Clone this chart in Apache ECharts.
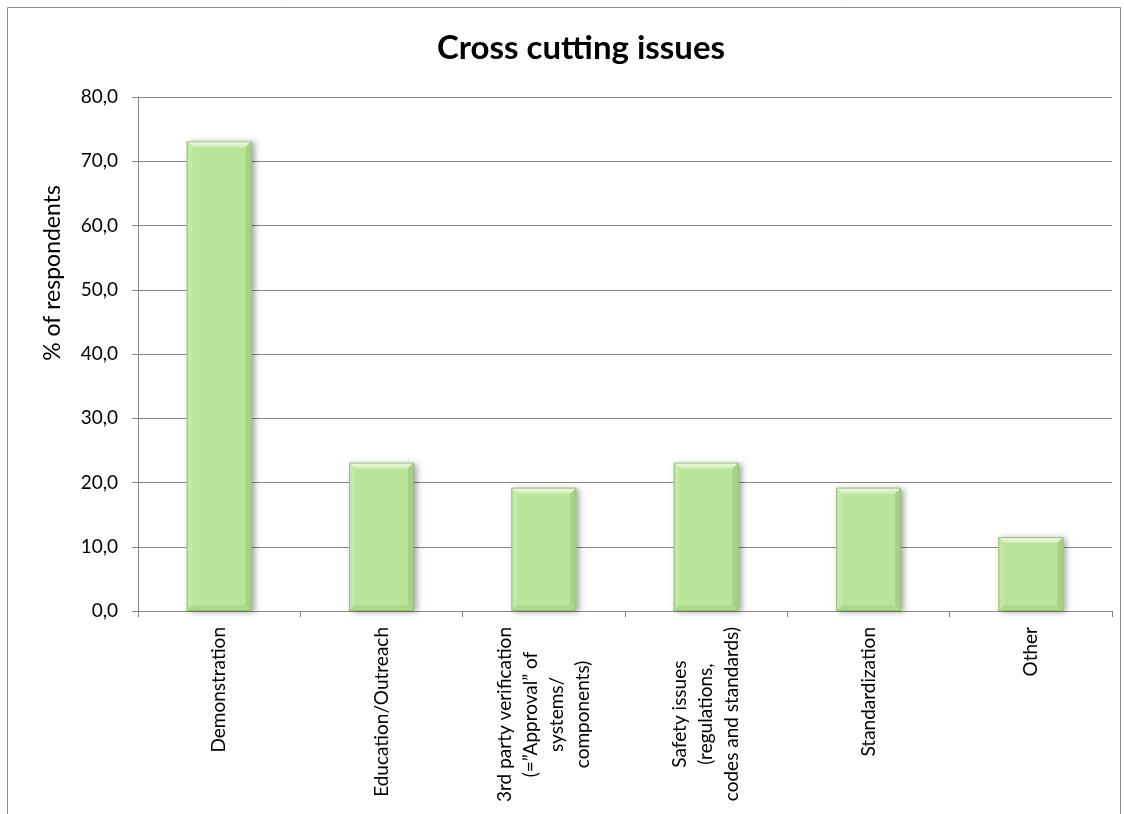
<!DOCTYPE html>
<html>
<head>
<meta charset="utf-8">
<script src="https://cdn.jsdelivr.net/npm/echarts@6/dist/echarts.min.js"></script>
<style>
  html, body { margin: 0; padding: 0; background: #ffffff; }
  #chart { width: 1124px; height: 814px; }
</style>
</head>
<body>
<div id="chart"></div>
<script>
// Survey answers: share of respondents naming each cross cutting issue
const categories = [
  'Demonstration',
  'Education/Outreach',
  '3rd party verification\n(=”Approval” of\nsystems/\ncomponents)',
  'Safety issues\n(regulations,\ncodes and standards)',
  'Standardization',
  'Other'
];
const shares = [73.1, 23.1, 19.2, 23.1, 19.2, 11.5];
const valueTitle = '% of respondents';

const yMin = 0;
const yMax = 80;
const yStep = 10;

const FONT = 'Lato';
const GRID_GREY = '#878787';

// Bevelled bar in the style of an office chart, sized by the axes
function renderBar(params, api) {
  const idx = api.value(0);
  const v = api.value(1);
  const top = api.coord([idx, v]);
  const base = api.coord([idx, yMin]);
  const w = api.size([1, 0])[0] * 0.4;
  const x0 = top[0] - w / 2, x1 = top[0] + w / 2;
  const y0 = top[1], y1 = base[1];
  const b = Math.min(6, (y1 - y0) / 2);
  return {
    type: 'group',
    children: [
      { type: 'rect', shape: { x: x0, y: y0, width: w, height: y1 - y0 },
        style: { fill: '#b9e49a', shadowBlur: 6, shadowColor: 'rgba(0,0,0,0.35)', shadowOffsetX: 3, shadowOffsetY: 1 } },
      { type: 'polygon', shape: { points: [[x0, y0], [x1, y0], [x1 - b, y0 + b], [x0 + b, y0 + b]] },
        style: { fill: new echarts.graphic.LinearGradient(0, 0, 0, 1, [
          { offset: 0, color: '#f1fbe8' }, { offset: 1, color: '#cdeeb3' }]) } },
      { type: 'polygon', shape: { points: [[x0, y0], [x0 + b, y0 + b], [x0 + b, y1 - b], [x0, y1]] },
        style: { fill: '#c3e9a6' } },
      { type: 'polygon', shape: { points: [[x1, y0], [x1, y1], [x1 - b, y1 - b], [x1 - b, y0 + b]] },
        style: { fill: '#a6d287' } },
      { type: 'polygon', shape: { points: [[x0, y1], [x0 + b, y1 - b], [x1 - b, y1 - b], [x1, y1]] },
        style: { fill: '#acd98e' } },
      { type: 'rect', shape: { x: x0 + 0.5, y: y0 + 0.5, width: w - 1, height: y1 - y0 - 1 },
        style: { fill: 'none', stroke: '#97c27b', lineWidth: 1 } }
    ]
  };
}

const chart = echarts.init(document.getElementById('chart'), null, { renderer: 'canvas' });

chart.setOption({
  backgroundColor: '#ffffff',
  animation: false,
  title: {
    text: 'Cross cutting issues',
    left: 576,
    top: 27,
    textAlign: 'center',
    textStyle: { fontFamily: FONT, fontWeight: 'bold', fontSize: 33, color: '#000000' }
  },
  graphic: [
    { type: 'rect', z: -10, silent: true,
      shape: { x: 7.5, y: 7.5, width: 1113, height: 830 },
      style: { fill: 'none', stroke: '#8a8a8a', lineWidth: 1 } },
    // value axis title, set in the upper part of the plot height
    { type: 'text', silent: true, x: 53, y: 273, rotation: Math.PI / 2,
      style: { text: valueTitle, fontFamily: FONT, fontSize: 23, fill: '#000000',
               align: 'center', verticalAlign: 'middle' } }
  ],
  grid: { left: 138, right: 12, top: 97, bottom: 203, containLabel: false },
  xAxis: {
    type: 'category',
    data: categories,
    boundaryGap: true,
    axisLine: { show: true, lineStyle: { color: GRID_GREY, width: 1 } },
    axisTick: { show: true, length: 6, lineStyle: { color: GRID_GREY } },
    axisLabel: {
      interval: 0,
      rotate: 90,
      margin: 16,
      formatter: function (val) {
        return val.split('\n').map(function (s) { return '{c|' + s + '}'; }).join('\n');
      },
      rich: {
        c: { align: 'center', fontFamily: FONT, fontSize: 19, lineHeight: 26, color: '#000000' }
      }
    },
    splitLine: { show: false }
  },
  yAxis: {
    type: 'value',
    min: yMin,
    max: yMax,
    interval: yStep,
    axisLine: { show: true, lineStyle: { color: GRID_GREY, width: 1 } },
    axisTick: { show: true, length: 6, lineStyle: { color: GRID_GREY } },
    axisLabel: {
      margin: 20,
      fontFamily: FONT,
      fontSize: 19,
      color: '#000000',
      formatter: function (v) { return v.toFixed(1).replace('.', ','); }
    },
    splitLine: { show: true, lineStyle: { color: GRID_GREY, width: 1 } }
  },
  series: [{
    type: 'custom',
    name: valueTitle,
    renderItem: renderBar,
    encode: { x: 0, y: 1 },
    data: shares.map(function (v, i) { return [i, v]; }),
    z: 3
  }]
});
</script>
</body>
</html>
